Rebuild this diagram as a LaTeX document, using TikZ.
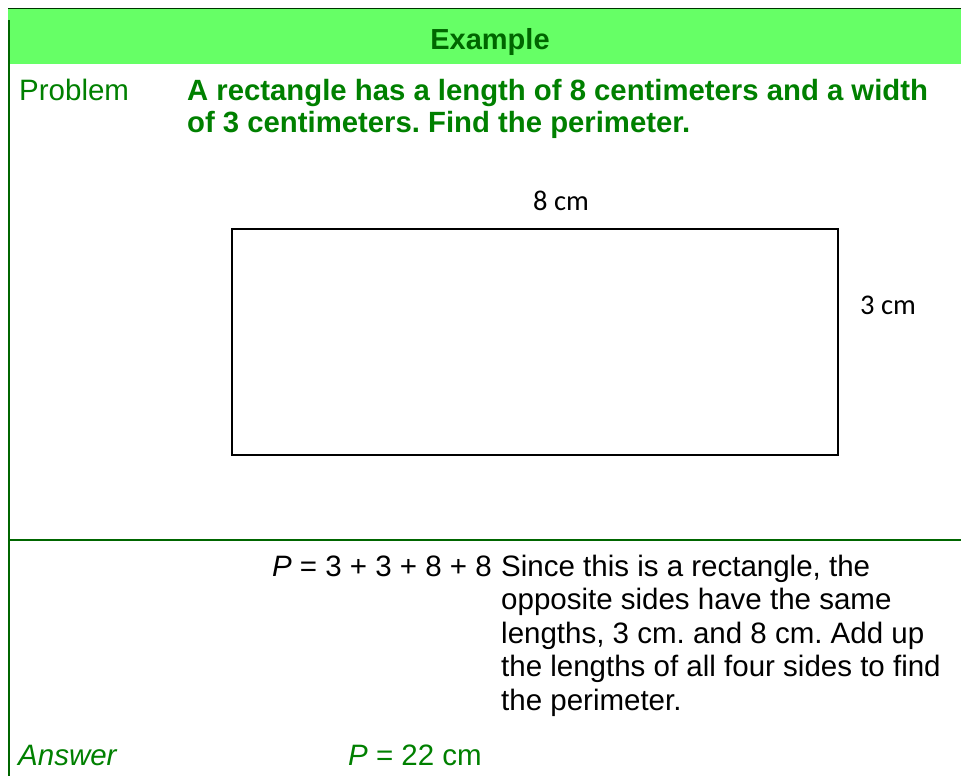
\documentclass[tikz,border=0pt]{standalone}
\usepackage{fontspec}
\setmainfont{Liberation Sans}
\newfontfamily\labelfont{Carlito}
\definecolor{hdrfill}{HTML}{66FF66}
\definecolor{txtgreen}{HTML}{008000}
\definecolor{hdrtxt}{HTML}{006600}
\definecolor{bordergreen}{HTML}{006600}
\tikzset{
  body/.style={inner sep=0pt, anchor=base west, font=\fontsize{29.5}{34}\selectfont},
  greentxt/.style={body, text=txtgreen},
  greenbold/.style={body, text=txtgreen, font=\fontsize{29.3}{34}\selectfont\bfseries},
  dimlabel/.style={inner sep=0pt, anchor=base west, font=\labelfont\fontsize{28.5}{33}\selectfont},
}
\frenchspacing
\begin{document}
\begin{tikzpicture}[x=1pt,y=-1pt]
\useasboundingbox (0,0) rectangle (961,776);
% header
\fill[hdrfill] (8,9) rectangle (961,64);
\draw[line width=1pt, black!80!green] (8,9) -- (961,9);
\node[inner sep=0pt, anchor=base, text=hdrtxt, font=\fontsize{29}{34}\selectfont\bfseries] (hdr) at (490,49) {Example};
% frame lines
\draw[bordergreen, line width=2pt] (9.3,20) -- (9.3,776);
\draw[bordergreen, line width=2.5pt] (8,540) -- (961,540);
% problem
\node[greentxt] (prob) at (19,100) {Problem};
\node[greenbold] (q1) at (187,100) {A rectangle has a length of 8 centimeters and a width};
\node[greenbold] (q2) at (187,132.5) {of 3 centimeters. Find the perimeter.};
% rectangle
\draw[line width=2pt] (232,229) rectangle (837.5,454.5);
\node[dimlabel] (len) at (533,210) {8 cm};
\node[dimlabel] (wid) at (860,314) {3 cm};
% solution
\node[body, anchor=base east] (eq) at (492,576) {\textit{P} = 3 + 3 + 8 + 8};
\node[body] (s1) at (501,576) {Since this is a rectangle, the};
\node[body] (s2) at (501,609.5) {opposite sides have the same};
\node[body] (s3) at (501,643) {lengths, 3 cm. and 8 cm. Add up};
\node[body] (s4) at (501,676.7) {the lengths of all four sides to find};
\node[body] (s5) at (501,710.5) {the perimeter.};
% answer
\node[greentxt] (ans) at (18,765) {\itshape Answer};
\node[greentxt] (res) at (348,765) {\textit{P} = 22 cm};
\end{tikzpicture}
\end{document}
